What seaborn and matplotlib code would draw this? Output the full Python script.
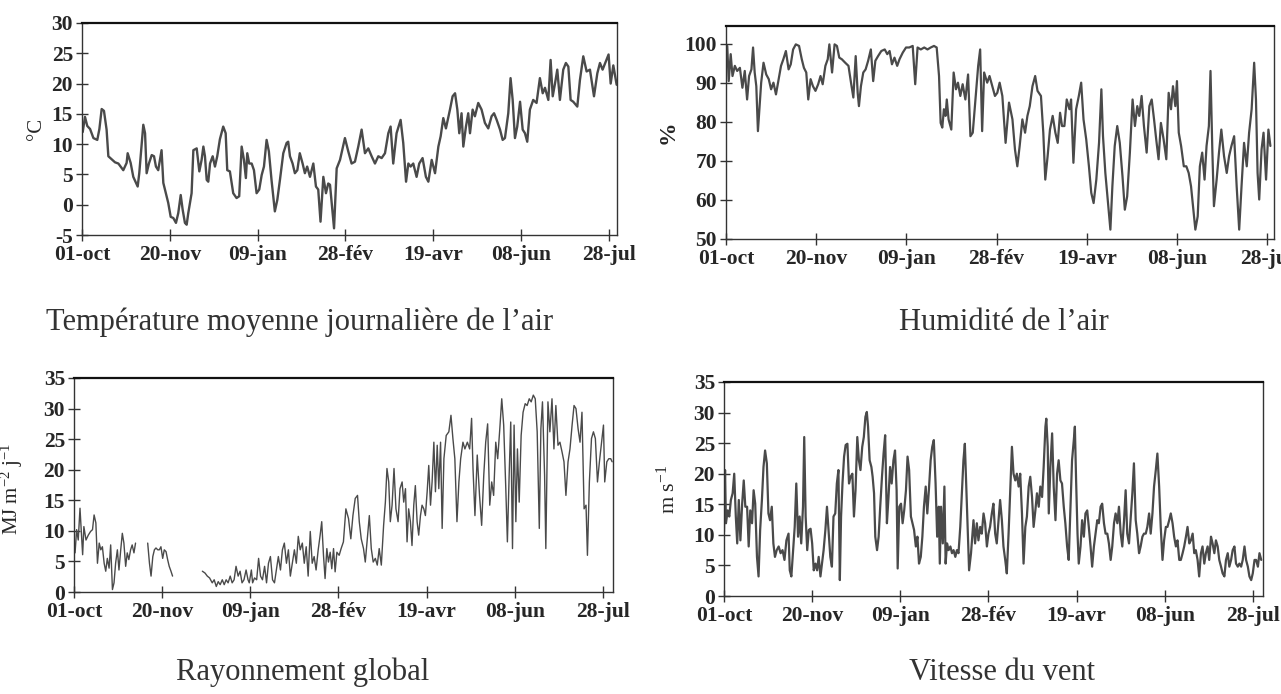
import numpy as np
import pandas as pd
import matplotlib
matplotlib.use("Agg")
import matplotlib.pyplot as plt
import seaborn as sns

# ---------------- data (day index from 01-oct) ----------------
tick_days = [0, 50, 100, 150, 200, 250, 300]
tick_labels = ['01-oct', '20-nov', '09-jan', '28-fév', '19-avr', '08-jun', '28-jul']

temp_day = [0.4,1.7,3,4.6,6.5,8.7,9.9,11.2,12.5,14,15,16.9,18.8,20.7,22,23.5,25.4,26,27.7,29.2,
            31.7,32.6,34,34.9,35.9,36.8,38.1,39.7,41,42.1,43.4,45.3,46.3,48.2,49.1,50.5,52,53.5,54.8,56.2,
            57.3,58.6,59.6,60.5,62.4,63.4,65.3,66.8,68.1,69.1,70,71,71.9,72.9,74.4,75.7,77,78.5,80.4,81.8,
            82.7,84.2,86.1,88,89.5,90.9,92.2,93.3,94.1,95.2,96.6,97.9,99.4,100.9,102.3,103.6,105.1,106.4,107.9,109.8,
            111.2,112.7,114.6,116.5,117.4,118.4,119.9,121.2,122.6,124,125.6,126.9,128.2,129.8,131.7,133.2,134.5,135.8,137.4,138.9,
            140.2,141.2,143.5,145,146.9,149.7,151.6,153.5,155.4,157.3,159.2,
            161.1,163,164.9,166.8,168.7,170.6,172.5,174.4,175.7,177.2,179.1,181.4,182.9,184.5,185.8,187.1,188.6,190.5,192,193.9,
            195.8,197.2,199.1,201,202.9,204.2,205.7,207.2,209.5,211,212.4,213.7,214.8,216.1,217.1,218.6,219.9,220.9,222.4,223.7,
            225.6,227.5,229.4,231.3,233.2,234.6,236.1,238,239.5,240.8,242.7,244,245.2,246.5,247.8,249.4,250.9,252.2,253.5,255,
            256.9,258.8,260.7,262.3,263.6,265.5,266.8,268,269.3,270.6,272.1,274,275.5,276.9,278.2,279.7,282,283.5,285.4,287.3,
            289.2,291.5,293.4,294.9,296.4,298.3,299.8,301,302.5,304.4]
temp_val = [12,14.5,13,12.5,11,10.7,12.5,15.8,15.5,12.4,8,7.5,7,6.8,6.3,5.7,6.9,8.5,6.9,4.6,
            3,5.2,10,13.2,11.8,5.2,6.8,8.2,8,6.3,5.7,9,3.6,1.4,0.3,-2,-2.2,-3,-1.4,1.6,
            -0.8,-3,-3.3,-1.4,1.9,9,9.3,5.5,7.4,9.6,8,4.1,3.8,6.8,8,6.3,8,10.8,12.9,11.8,
            5.7,5.5,1.9,1.1,1.4,9.6,7.4,4.4,8.5,6.8,6.8,5.7,1.9,2.5,4.9,6.3,10.7,8.8,4.1,-1.1,
            0.8,4.1,8.5,10.2,10.4,8,6.8,5.2,5.7,8.5,6.8,5.2,6.3,4.6,6.8,3,2.5,-2.8,4.6,1.9,
            3.5,3.3,-3.9,6,7.4,11,8.8,6.8,7.1,9.6,12.4,
            8.5,9.3,8,6.8,8,7.7,8.5,11.8,12.9,6.8,11.8,14,10.2,3.8,6.8,6.3,6.8,4.6,6.8,7.7,
            4.6,3.8,7.4,5.2,9.6,11.3,14.3,12.6,15.7,17.9,18.4,15.7,11.8,15.1,9.6,12.9,15.1,11.8,15.7,14.6,
            16.8,15.7,13.5,12.6,14.6,15.1,14,12.4,10.7,11,15.1,20.9,17.3,11,12.9,17,12.4,11.8,10.4,15.7,
            17.3,16.8,20.9,18.4,19.3,17.3,23.9,17.9,20,22.3,17.3,22.3,23.4,22.8,17.3,17,16.2,20.6,24.5,22,
            22.3,17.9,21.7,23.4,22.3,23.7,24.8,20,23,19.8]

hum_day = [0.7,1.5,2.6,3.6,4.9,6.2,7.7,9.1,10.4,11.7,12.8,14.1,15,15.9,16.8,17.7,18.6,19.5,20.8,22.3,
           23.7,25,26.3,27.7,29.2,30.5,31.8,33.2,34.7,35.9,37.2,38.7,40.5,42,43.2,44.5,45.6,46.9,48.2,49.6,
           51.1,52.4,53.6,55.1,56.4,57.3,58.8,60.2,61.5,62.8,64.2,66.1,67.9,69.3,70.6,71.9,73,73.7,74.8,76.1,
           77.4,78.8,80.3,81.6,82.8,84.3,86.1,88,89.4,90.7,92,93.4,94.9,96.2,98,99.8,101.6,103.5,104.9,106.2,
           108,109.9,111.7,113.5,115.3,116.8,118.1,119,119.9,120.8,121.7,
           122.4,123.4,124.9,126.2,127.5,128.6,129.9,131.2,132.7,134.2,135.5,136.8,138.3,139.8,140.9,142,143.1,144.8,146.1,147.6,
           149.1,150.4,151.7,153.2,155,156.9,158.8,160.2,161.5,162.8,164.3,165.8,167.1,168.4,169.9,171.4,172.7,174.6,175.9,177,
           178.3,179.6,181.1,182.6,183.9,185.2,186.3,187.6,188.9,190.4,191.3,192.6,194.1,195.6,196.9,198.2,199.7,201.2,202.5,203.8,
           205.3,206.8,208.1,209,210.3,211.8,213.1,214.2,215.5,216.9,218.3,219.8,221.1,222.4,223.9,225.4,226.7,228,229.1,230.4,
           231.7,233.2,234.7,236,237.3,238.5,239.8,241.1,242.6,244.1,245.4,246.7,247.8,249.1,250,251,252.3,253.8,255.2,256.5,
           257.8,258.9,260.2,261.5,262.7,264,265.3,266.4,267.7,268.6,269.6,270.5,272,273.3,274.6,276.1,277.6,278.9,280.2,281.7,
           283.1,284.5,285.8,287.2,288.7,290,291.4,292.8,293.8,294.7,295.6,296.9,298,299.4,300.7,301.8]
hum_val = [99.4,90.4,97.3,91.7,94.3,93,93.8,88.7,93,85.7,91.7,93.4,99,92.6,89.1,77.6,84,90,95.1,92.1,
           90.9,88.3,90,87,90.9,94.3,96,98.1,93.4,94.7,98.5,99.8,99.4,96,93.8,92.6,85.7,90.9,89.1,87.9,
           89.6,91.7,89.6,94.3,96,99.8,92.6,99.8,99.4,96.4,96,95.1,94.3,90,86.2,96.8,87.4,84,89.1,92.6,
           93.4,95.6,98.5,90.4,95.6,96.8,98.1,98.5,97.3,98.1,94.7,96.4,94.3,96,97.7,99,99,99.4,89.6,99,
           98.5,99,98.5,99,99.4,99,91.7,79.7,78.5,83.2,81.5,
           85.7,80.6,78,92.6,88.3,90,86.6,89.6,85.7,92.1,76.3,77.2,85.7,94.3,98.5,77.6,92.6,90,91.7,89.1,
           86.6,87.4,90,86.6,74.6,84.9,80.6,72.9,68.6,73.8,80.6,77.2,81.5,84,89.1,91.7,87.9,86.6,77.2,65.2,
           71.2,78,81.5,77.2,74.6,82.3,78.9,78.9,85.7,83.2,85.7,69.5,83.2,86.6,90,80.6,75.5,68.6,61.8,59.2,
           65.2,74.6,88.3,76.3,66.9,59.2,52.4,63.5,73.8,78.9,74.6,66.1,57.5,60.9,72.1,85.7,78.9,84,81.5,86.6,
           78.9,72.1,84,85.7,80.6,75.5,70.4,79.7,75.5,70.4,87.4,83.2,89.1,84,90.4,77.2,73.8,68.6,68.6,66.9,
           63.5,58.4,52.4,55.8,68.6,72.1,65.2,73.8,78.9,93,72.9,58.4,65.2,72.1,78,71.2,66.9,71.2,73.8,76.3,
           63.5,52.4,63.5,74.6,68.6,77.2,83.2,95.1,85.7,66.9,60.1,72.9,77.2,65.2,78,73.8]

# global radiation: three recorded periods (gaps = missing data)
rad1_day = [0.6,1.5,2.4,3.4,4.3,4.9,5.6,6.8,8.1,9.4,10.5,11.4,12.4,13.3,14.3,15.2,16.1,17.1,18,18.9,
            19.9,20.8,21.8,22.7,23.6,24.6,25.5,26.5,27.4,28.3,29.3,30.2,31.1,32.1,33,34,34.9]
rad1_val = [6.4,10.2,8.5,13.7,9.1,6.1,10.7,8.5,9.3,9.9,10.2,12.6,11.3,4.7,8,6.9,7.4,4.7,3.4,5.5,
            3.9,7.7,0.4,1.5,4.7,6.9,3.6,6.9,9.6,8,4.2,6.4,5.3,6.9,7.7,6.4,8]
rad2_day = [41.8,42.8,43.7,44.7,45.6,46.5,47.5,48.4,49.3,50.3,51.2,52.2,53.1,54,55,55.9]
rad2_val = [8,4.7,2.6,5.8,6.9,7.2,6.9,6.9,7.4,5.5,6.9,6.6,5.3,4.2,3.4,2.6]
rad3_day = [72.8,74.3,75.6,76.9,78.4,79.5,80.7,81.8,82.9,84.1,85.2,86.3,87.4,88.6,89.7,90.8,91.9,93.1,94.2,95.3,
            96.4,97.6,98.7,99.4,100.6,101.3,102.4,103.6,104.7,105.8,106.9,108.1,109.2,110.3,111.4,112.6,113.7,114.8,115.9,117.1,
            118.2,119.3,120.5,121.6,122.7,123.8,125,126.1,127.2,128.3,129.5,130.6,131.7,132.8,134,135.1,136.2,137.3,138.5,
            139.6,140.5,141.5,142.4,143.4,144.3,145.3,146.2,147.2,148.1,149.1,150.4,151.5,152.8,154.2,155.7,157,158.2,159.5,160.8,
            161.8,162.9,164.2,165.2,166.5,167.5,168.6,169.7,170.9,172,173.1,174.3,175.6,176.6,177.5,178.5,179.4,180.4,181.5,182.6,
            183.8,184.9,186.1,187,188,188.9,189.8,190.8,191.7,192.7,193.6,194.6,195.5,196.5,197.4,198.4,199.3,200.3,201.2,202.2,
            203.1,204.1,205,206,206.9,207.9,208.8,209.8,211.1,212.6,213.8,214.9,216,217.2,218.3,219.3,220.6,221.7,223.1,224.4,
            225.5,226.3,227.4,228.7,230,231.2,232.4,233.5,234.6,235.8,236.9,238,239.2,240.3,241.5,242.6,243.7,244.9,245.8,246.8,
            247.7,248.7,249.6,250.6,251.5,252.5,253.6,254.7,255.9,257,258.2,259.3,260.5,261.6,262.7,263.9,264.8,265.7,266.9,267.6,
            268.8,269.9,271.1,272.2,273.3,274.5,275.6,276.8,277.9,279,280.2,281.3,282.5,283.6,284.7,285.9,287,288.1,289.3,290.4,
            291.2,292.3,293.5,294.6,295.7,296.9,298,299.2,300.3,301,302.2,303.3,304.4,305.2]
rad3_val = [3.4,3.1,2.6,2.3,1.5,2,0.9,1.7,1.2,2,1.2,2,1.5,2.6,1.5,2,4.2,2.6,3.4,1.5,
            2,3.6,2,1.5,3.6,1.5,2.3,2,5.5,2.6,2,4.2,1.5,4.7,5.8,2,1.5,3.6,5.8,3.6,
            6.9,8,4.7,6.9,2.6,4.7,6.9,4.7,9.1,6.9,8,4.7,7.4,2.6,9.9,4.7,5.8,3.6,6.9,
            9.3,11.5,6,2.2,7.1,4.9,6.5,3.8,7.1,3.3,6.5,6,7.1,8.2,13.6,12,8.7,12.5,15.3,15.8,
            11.5,8.7,7.1,4.9,9.3,12.5,7.1,4.9,5.5,4.4,7.1,4.4,10.9,14.7,20.2,18,11.5,14.2,20.2,13.6,
            11.5,16.9,18,14.7,16.9,8.2,13.6,11.5,7.6,14.2,17.4,11.5,9.3,12.5,14.2,13.6,12.5,16.4,20.7,14.2,
            18,24.5,16.4,24,16.9,24.5,10.4,21.8,25.6,26.2,28.9,25.1,21.8,11.5,18,21.8,24.5,23.4,24.5,23.4,
            28.4,20.2,12.5,22.4,15.8,10.9,19.1,24.5,27.5,14.2,18,15.8,24.5,21.8,26.7,31.6,27.3,16.9,8.2,19.1,
            27.8,7.1,27.3,11.5,23.4,14.7,25.6,29.4,30.8,30.5,31.6,31.1,32.2,31.6,26.2,10.4,26.7,31.1,19.1,7.1,
            31.1,26.2,31.6,23.4,30.5,24,24.5,22.9,21.3,15.8,21.3,23.4,27.3,30.5,30,26.7,24.5,29.4,13.6,14.2,
            6,18,25.1,26.2,25.1,18,21.3,24.5,27.3,18,21.3,21.8,21.8,21.3]

wind_day = [0,0.6,1.1,2.1,3,3.9,4.9,5.8,6.7,7.5,8.4,9.3,10.3,11.2,12.1,13.1,14,14.9,15.9,16.8,17.7,
            18.7,19.6,20.5,21.5,22.4,23.3,24.3,25.2,26.1,27.1,28,28.9,29.9,31,32.1,33.2,34.3,35.4,36.6,37.3,
            38.2,39.2,40.1,41,42,42.9,43.8,44.8,45.5,46.3,47.2,48.1,49.1,50,50.9,51.9,52.8,53.7,54.7,55.6,
            56.5,57.5,58.4,59.3,60.3,61.2,62.1,63.1,64,64.9,65.7,66.4,67.2,68.1,69,70,70.9,71.8,72.8,73.7,
            74.6,75.6,76.5,77.4,78.4,79.3,80.2,81,81.7,82.6,83.6,84.3,85.1,85.8,86.8,87.7,88.6,89.6,90.5,91.4,
            92.4,93.3,94.2,95.1,96.1,97,97.9,98.5,99.4,100.4,101.3,102.2,103.2,104.1,105,106,106.9,107.8,108.8,109.7,
            110.6,111.6,112.5,113.4,114.4,115.3,116.2,117.2,118.1,119,120,120.9,121.8,122.4,123.1,124.1,125,125.7,126.5,127.4,
            128.4,129.3,130.2,131.2,132.1,133,134,134.9,135.8,136.6,
            138.2,139,140.1,141.5,142.4,143.4,144.3,145.3,146.2,147.2,148.1,149.1,150,150.9,151.9,152.8,153.8,154.7,155.7,156.6,
            157.6,158.5,159.5,160.4,161.4,162.3,163.3,164.2,165.2,166.1,167.1,168,169,169.9,170.9,171.8,172.8,173.7,174.7,175.6,
            176.6,177.5,178.5,179.4,180.4,181.3,182.3,182.8,183.6,184.2,185.1,186.1,187,188,188.9,189.8,190.8,191.7,192.7,193.6,
            194.6,195.5,196.5,197.4,198.4,199,199.7,200.5,201.2,202.2,203.1,204.1,205,206,206.9,207.9,208.8,209.8,210.7,211.7,
            212.6,213.6,214.5,215.5,216.4,217.4,218.3,219.3,220.2,221.2,222.1,223.1,224,225,225.9,226.9,227.8,228.7,229.7,230.6,
            231.6,232.5,233.5,234.4,235.4,236.3,237.3,238.2,239.2,240.1,241.1,242,243,243.9,244.9,245.8,246.8,247.7,248.7,249.6,
            250.6,251.5,252.5,253.4,254.4,255.3,256.3,257.2,258.2,259.1,260.1,261,262,262.9,263.9,264.8,265.8,266.7,267.6,268.6,
            269.5,270.5,271.4,272.4,273.3,274.3,275.2,276.2,277.1,278.1,279,280,280.9,281.9,282.8,283.8,284.7,285.7,286.6,287.6,
            288.5,289.5,290.4,291.4,292.3,293.3,294.2,295.2,296.1,297.1,298,299,299.9,300.9,301.8,302.8,303.7,304.7]
wind_val = [10.5,20.6,11.9,14,13,15.7,16.8,20,13,8.6,15.7,9.1,15.1,18.9,14.6,14.6,8.1,14,11.9,17.3,15.1,
            6.4,3.2,10.8,15.7,21.1,23.8,21.7,13.5,12.4,14.6,8.6,6.4,7.5,8.1,7,7.5,5.9,9.1,10.2,4.2,
            3.2,7.5,11.3,18.4,9.7,13,8.6,14.6,26,13,7.5,10.8,11,8.6,4.2,5.3,4.2,6.4,3.2,5.3,
            7.5,10.8,14.6,10.8,6.4,4.8,13,13.5,18.4,20.6,2.6,13,18.4,22.8,24.7,24.9,18.4,19.5,20,13,
            17.3,26,22.2,20.6,24.4,26,29.3,30.1,27.7,22.2,21.1,19.5,16.8,9.7,7.5,9.7,14.6,19.5,23.3,26.3,
            11.9,16.2,21.1,18.4,22.2,23.8,17.3,4.5,14.6,15.1,11.9,14,17.3,22.8,20.6,13,11.9,10.8,8.1,9.7,
            5.3,6.4,9.7,14.6,17.9,13.5,17.3,22.2,24.4,25.5,18.4,9.7,14.6,5.3,14.6,8.6,17.9,5.3,8.6,7.5,
            8.1,7,7.5,6.4,7.5,7,11.3,16.8,22.2,24.9,
            11.3,4.2,7,12.4,8.6,11.9,9.1,11.3,10.2,13.5,11.9,8.1,10.2,11.3,13.5,15.1,10.2,8.6,12.4,15.7,
            12.4,8.1,5.9,3.7,10.2,16.8,24.4,20,18.9,20,17.9,20,13.5,5.3,11.3,13,17.9,19.5,16.2,11.3,
            14,16.8,14.6,17.9,16.2,21.1,27.7,29,24.4,13.5,21.1,26.6,17.9,12.4,20,22.2,18.9,18.4,14.6,11.9,
            8.1,5.9,14.6,22.2,25.5,27.7,18.9,10.2,5.3,8.1,12.4,9.7,13.5,14,11.3,8.1,4.8,8.1,10.2,12.4,
            11.9,14.6,15.1,11.9,10.2,10.2,8.6,5.9,8.1,11.9,13.5,11.9,14.6,10.2,8.1,12.4,17.3,10.2,8.6,12.4,
            16.8,21.7,12.4,10.2,7,8.1,9.7,10.2,10.2,11.3,13.5,10.2,13.5,17.9,20.6,23.3,17.9,11.3,5.9,9.1,
            11.3,11.3,12.4,13.5,11.9,9.7,8.1,9.1,5.9,5.9,7,8.1,9.7,11.3,8.6,9.1,10.2,7,7.5,5.9,
            3.2,7,8.1,5.3,7,8.1,5.9,9.7,8.6,7,9.1,8.1,5.9,4.8,3.7,3.2,5.9,7,4.8,5.9,
            7.5,8.1,5.3,4.8,5.3,4.8,5.9,8.1,5.9,4.8,3.2,2.6,3.7,5.9,5.9,4.8,7,5.9]

# ---------------- style ----------------
sns.set_theme(style="ticks")
plt.rcParams['font.family'] = ['Liberation Serif', 'DejaVu Serif']
plt.rcParams['mathtext.fontset'] = 'custom'
plt.rcParams['mathtext.rm'] = 'Liberation Serif'
plt.rcParams['mathtext.it'] = 'Liberation Serif:italic'
plt.rcParams['axes.unicode_minus'] = False

LINE = '#4a4a4a'
TXT = '#262626'
W, H = 1281, 694

fig = plt.figure(figsize=(12.81, 6.94), dpi=100)
fig.patch.set_facecolor('white')


def px_axes(l, t, r, b):
    return fig.add_axes([l / W, 1 - b / H, (r - l) / W, (b - t) / H])


def style(ax, ylim, yticks, xmax, ylabel, ylab_x, ylab_y, ylab_size=15):
    ax.set_xlim(0, xmax)
    ax.set_ylim(*ylim)
    ax.set_xticks(tick_days)
    ax.set_xticklabels(tick_labels)
    ax.set_yticks(yticks)
    ax.set_xlabel('')
    ax.set_ylabel(ylabel, fontsize=ylab_size, color=TXT)
    ax.yaxis.set_label_coords(ylab_x, ylab_y)
    ax.tick_params(axis='x', direction='inout', length=9, width=1.0, labelsize=15.5,
                   colors='#333333', labelcolor=TXT, pad=3)
    ax.tick_params(axis='y', direction='inout', length=9, width=1.0, labelsize=15.5,
                   colors='#333333', labelcolor=TXT, pad=2)
    for lab in ax.get_xticklabels() + ax.get_yticklabels():
        lab.set_fontweight('bold')
    for side, sp in ax.spines.items():
        sp.set_visible(True)
        sp.set_color('#333333')
        sp.set_linewidth(1.0)
    ax.spines['top'].set_linewidth(1.6)
    ax.spines['top'].set_color('#111111')
    ax.set_facecolor('white')
    ax.grid(False)


# Panel 1: temperature
ax1 = px_axes(82, 23, 617, 235)
sns.lineplot(x=temp_day, y=temp_val, ax=ax1, color=LINE, linewidth=1.7)
style(ax1, (-5, 30), [-5, 0, 5, 10, 15, 20, 25, 30], 304.6, '°C', -0.068, 0.5)

# Panel 2: humidity
ax2 = px_axes(726, 26, 1274, 239)
sns.lineplot(x=hum_day, y=hum_val, ax=ax2, color=LINE, linewidth=1.6)
style(ax2, (50, 104.5), [50, 60, 70, 80, 90, 100], 303.8, '%', -0.087, 0.5, ylab_size=17)
ax2.yaxis.label.set_fontweight('bold')

# Panel 3: global radiation (separate recorded periods)
rad_df = pd.concat([
    pd.DataFrame({'day': rad1_day, 'val': rad1_val, 'seg': 1}),
    pd.DataFrame({'day': rad2_day, 'val': rad2_val, 'seg': 2}),
    pd.DataFrame({'day': rad3_day, 'val': rad3_val, 'seg': 3}),
])
ax3 = px_axes(74, 378, 613, 592)
sns.lineplot(data=rad_df, x='day', y='val', units='seg', estimator=None, ax=ax3,
             color=LINE, linewidth=1.0)
style(ax3, (0, 35), [0, 5, 10, 15, 20, 25, 30, 35], 305.7,
      r'MJ m$^{-2}$ j$^{-1}$', -0.09, 0.48)

# Panel 4: wind speed
ax4 = px_axes(724, 382, 1263, 596)
sns.lineplot(x=wind_day, y=wind_val, ax=ax4, color=LINE, linewidth=1.6)
style(ax4, (0, 35), [0, 5, 10, 15, 20, 25, 30, 35], 305.7,
      r'm s$^{-1}$', -0.082, 0.5, ylab_size=16)

# panel captions
cap_kw = dict(fontsize=22, color='#333333', ha='center', va='baseline')
fig.text(300 / W, 1 - 330 / H, "Température moyenne journalière de l’air", **cap_kw)
fig.text(1004 / W, 1 - 330 / H, "Humidité de l’air", **cap_kw)
fig.text(303 / W, 1 - 680 / H, "Rayonnement global", **cap_kw)
fig.text(1002 / W, 1 - 680 / H, "Vitesse du vent", **cap_kw)

fig.savefig('out.png', dpi=100, facecolor='white')
